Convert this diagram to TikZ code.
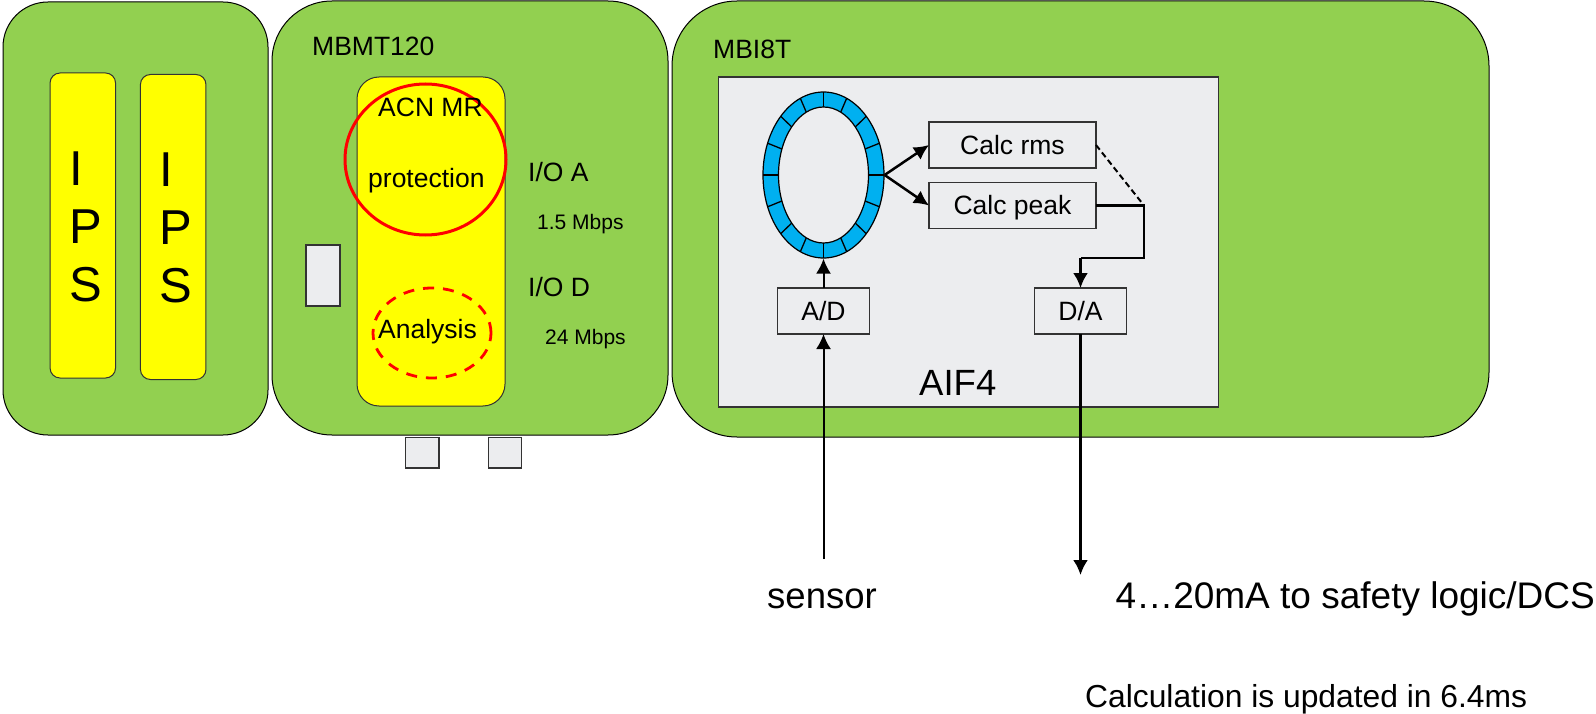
\documentclass[tikz,border=0pt]{standalone}
\usepackage{fontspec}
\setmainfont{Liberation Sans}
\usetikzlibrary{arrows.meta, shapes.geometric, calc, positioning}
\definecolor{rackGreen}{HTML}{92D050}
\definecolor{cardYellow}{HTML}{FFFF00}
\definecolor{slotGray}{HTML}{ECEDEF}
\definecolor{ringBlue}{HTML}{00B0F0}
\tikzset{
    panel/.style={rectangle, draw=black, line width=1pt, fill=rackGreen, inner sep=0pt, outer sep=0pt},
    card/.style={rectangle, draw=black!80, line width=1pt, fill=cardYellow, inner sep=0pt, outer sep=0pt},
    slot/.style={rectangle, draw=black!80, line width=1.3pt, fill=slotGray, inner sep=0pt, outer sep=0pt},
    calcBox/.style={slot, font=\fontsize{26.5}{30}\selectfont, text height=19pt, text depth=0pt},
    lbl/.style={inner sep=0pt, anchor=base west, font=\fontsize{26.5}{30}\selectfont},
    lblSmall/.style={lbl, font=\fontsize{21}{24}\selectfont},
    lblBig/.style={lbl, font=\fontsize{36.5}{40}\selectfont},
    ipsText/.style={inner sep=0pt, anchor=center, align=left, font=\fontsize{49}{58}\selectfont},
    flow/.style={-{Latex[length=15pt, width=15pt]}, line width=2.5pt},
    wire/.style={line width=2.5pt},
}
\newcommand{\drawFlow}[3][]{
    \draw[flow, #1] (#2) -- (#3);
}
\begin{document}
\begin{tikzpicture}[x=1pt, y=-1pt]
        \useasboundingbox (0,0) rectangle (1596,714);

        % racks
        \node[panel, minimum width=265pt, minimum height=433pt, rounded corners=45pt] (ipsRack) at (135.5,218.5) {};
        \node[panel, minimum width=396pt, minimum height=434pt, rounded corners=60pt] (mbmtRack) at (470,218) {};
        \node[panel, minimum width=817pt, minimum height=436pt, rounded corners=65pt] (mbiRack) at (1080.5,219) {};

        % power supplies
        \node[card, minimum width=65.5pt, minimum height=305pt, rounded corners=10pt] (ipsA) at (82.8,225.5) {};
        \node[card, minimum width=65.5pt, minimum height=305pt, rounded corners=10pt] (ipsB) at (173.2,227) {};
        \node[ipsText] (ipsAText) at (ipsA.center) [xshift=3pt, yshift=-1pt] {I\\P\\S};
        \node[ipsText] (ipsBText) at (ipsB.center) [xshift=3pt, yshift=-1pt] {I\\P\\S};

        % MBMT120
        \node[lbl] (mbmtName) at (312,56) {MBMT120};
        \node[card, minimum width=148pt, minimum height=329pt, rounded corners=22pt] (acnCard) at (431,241.5) {};
        \node[slot, minimum width=34pt, minimum height=61pt] (sideSlot) at (323,275.5) {};
        \node[slot, minimum width=33.5pt, minimum height=30.5pt] (lowSlotA) at (422.2,452.7) {};
        \node[slot, minimum width=33.5pt, minimum height=30.5pt] (lowSlotB) at (505,452.7) {};
        \node[ellipse, draw=red, line width=3pt, inner sep=0pt, minimum width=161pt, minimum height=151pt] (protRing) at (425.5,159.5) {};
        \node[ellipse, draw=red, dashed, dash pattern=on 11pt off 9pt, line width=2.8pt, inner sep=0pt, minimum width=118pt, minimum height=90pt] (analysisRing) at (432,333) {};
        \node[lbl] (acnText) at (378,117) {ACN MR};
        \node[lbl] (protText) at (368,188) {protection};
        \node[lbl] (analysisText) at (378,338) {Analysis};
        \node[lbl] (ioA) at (528,182) {I/O A};
        \node[lblSmall] (ioARate) at (537,230) {1.5 Mbps};
        \node[lbl] (ioD) at (528,296) {I/O D};
        \node[lblSmall] (ioDRate) at (545,344) {24 Mbps};

        % MBI8T
        \node[lbl] (mbiName) at (713,59) {MBI8T};
        \node[slot, minimum width=500pt, minimum height=330pt] (aifBox) at (968.5,242) {};
        \node[lblBig] (aifText) at (919,395) {AIF4};

        \node[ellipse, draw=black, line width=1.2pt, fill=ringBlue, inner sep=0pt, minimum width=121pt, minimum height=166pt] (ring) at (823.5,175) {};
        \foreach \a in {0,22.5,...,337.5} {
            \draw[line width=1.3pt] ($(ring.center)+(\a:45 and 68)$) -- ($(ring.center)+(\a:60.5 and 83)$);
        }
        \node[ellipse, draw=black, line width=1.2pt, fill=slotGray, inner sep=0pt, minimum width=90pt, minimum height=136pt] (ringHole) at (ring.center) {};

        \node[calcBox, minimum width=167pt, minimum height=46pt] (rms) at (1012.5,145) {Calc rms};
        \node[calcBox, minimum width=167pt, minimum height=46pt] (peak) at (1012.5,205.5) {Calc peak};
        \node[calcBox, minimum width=92pt, minimum height=46pt] (ad) at (823.5,311) {A/D};
        \node[calcBox, minimum width=92pt, minimum height=46pt] (da) at (1080.5,311) {D/A};

        \coordinate (jct) at (1144,205.5);
        \coordinate (bend) at (1080.5,258);
        \coordinate (sensorIn) at (823.5,559);
        \coordinate (logicOut) at (1080.5,575);

        \drawFlow{ring.east}{rms.west}
        \drawFlow{ring.east}{peak.west}
        \drawFlow[line width=2pt]{ad.north}{ring.south}
        \drawFlow[line width=2pt]{sensorIn}{ad.south}
        \drawFlow{da.south}{logicOut}
        \draw[line width=2pt, dashed, dash pattern=on 6pt off 3.5pt] (rms.east) -- (jct);
        \draw[wire] (peak.east) -- (jct) -- (jct |- bend) -- (bend);
        \drawFlow{bend}{da.north}

        % outside
        \node[lblBig] (sensorText) at (767,608) {sensor};
        \node[lblBig, font=\fontsize{37}{40}\selectfont] (logicText) at (1115.5,608) {4…20mA to safety logic/DCS};
        \node[lbl, font=\fontsize{31.8}{34}\selectfont] (noteText) at (1085,707) {Calculation is updated in 6.4ms};

    \end{tikzpicture}
\end{document}
